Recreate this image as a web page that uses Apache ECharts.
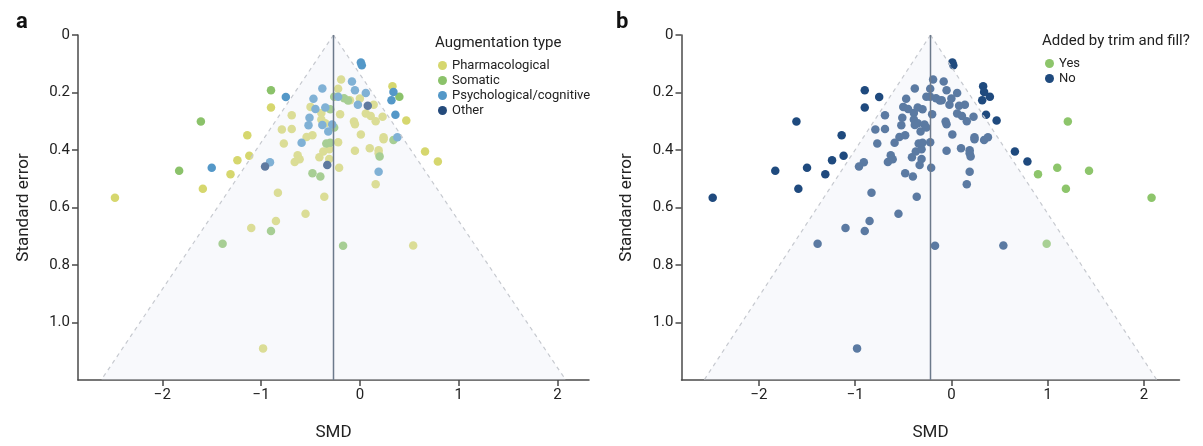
<!DOCTYPE html>
<html>
<head>
<meta charset="utf-8">
<script src="https://cdn.jsdelivr.net/npm/echarts@6/dist/echarts.min.js"></script>
<style>
  html, body { margin: 0; padding: 0; background: #fff; }
  #chart { width: 1203px; height: 446px; }
</style>
</head>
<body>
<div id="chart"></div>
<script>
// observed studies as [SMD, standard error], split by augmentation type
const pharmacological = [
  [-2.48, 0.566], [-1.59, 0.535], [-1.31, 0.484], [-1.24, 0.436], [-1.14, 0.349], [-1.12, 0.420],
  [-1.10, 0.671], [-0.98, 1.090], [-0.90, 0.252], [-0.85, 0.647], [-0.83, 0.549], [-0.79, 0.329],
  [-0.77, 0.377], [-0.69, 0.279], [-0.69, 0.327], [-0.66, 0.442], [-0.63, 0.418], [-0.61, 0.432],
  [-0.55, 0.622], [-0.54, 0.355], [-0.50, 0.250], [-0.48, 0.349], [-0.39, 0.271], [-0.39, 0.294],
  [-0.35, 0.307], [-0.41, 0.425], [-0.37, 0.405], [-0.36, 0.563], [-0.31, 0.397], [-0.31, 0.431],
  [-0.20, 0.276], [-0.22, 0.373], [-0.21, 0.462], [-0.19, 0.155], [-0.22, 0.187], [-0.10, 0.227],
  [-0.06, 0.301], [-0.05, 0.310], [-0.05, 0.403], [0.00, 0.221], [0.01, 0.346], [0.06, 0.273],
  [0.11, 0.282], [0.10, 0.394], [0.14, 0.243], [0.16, 0.300], [0.16, 0.519], [0.19, 0.401],
  [0.19, 0.411], [0.23, 0.284], [0.24, 0.356], [0.24, 0.363], [0.33, 0.178], [0.47, 0.297],
  [0.66, 0.405], [0.79, 0.440], [0.54, 0.732]
];
const somatic = [
  [-1.83, 0.472], [-1.61, 0.301], [-1.39, 0.726], [-0.90, 0.192], [-0.90, 0.682], [-0.48, 0.481],
  [-0.40, 0.492], [-0.30, 0.258], [-0.34, 0.377], [-0.30, 0.375], [-0.26, 0.322], [-0.26, 0.215],
  [-0.16, 0.220], [-0.12, 0.228], [0.20, 0.423], [0.40, 0.215], [0.34, 0.365], [-0.17, 0.733]
];
const psychological = [
  [-1.50, 0.462], [-0.75, 0.216], [-0.91, 0.443], [-0.59, 0.375], [-0.52, 0.314], [-0.51, 0.288],
  [-0.47, 0.222], [-0.45, 0.257], [-0.38, 0.186], [-0.38, 0.313], [-0.35, 0.252], [-0.32, 0.336],
  [-0.28, 0.311], [-0.22, 0.215], [-0.08, 0.162], [-0.05, 0.192], [-0.02, 0.243], [0.01, 0.096],
  [0.02, 0.105], [0.06, 0.202], [0.19, 0.476], [0.34, 0.198], [0.32, 0.227], [0.36, 0.277],
  [0.38, 0.356]
];
const other = [[-0.96, 0.457], [-0.33, 0.452], [0.08, 0.246]];

// studies imputed by trim and fill (panel b)
const filled = [
  [1.21, 0.301], [0.90, 0.484], [1.10, 0.462], [1.43, 0.472], [1.19, 0.535], [2.08, 0.566], [0.99, 0.726]
];
const observed = pharmacological.concat(somatic, psychological, other);

const funnelCenter = [-0.267, -0.217];   // pooled SMD, panel a / panel b
const seMax = 1.2;
const seTicks = [0, 0.2, 0.4, 0.6, 0.8, 1.0];
const smdTicks = [-2, -1, 0, 1, 2];

const fontFamily = 'Roboto, "Noto Sans", sans-serif';

function smdRange(c) {
  const lo = c - 1.96 * seMax, hi = c + 1.96 * seMax;
  const pad = (hi - lo) * 0.05;
  return [lo - pad, hi + pad];
}

function renderFunnel(params, api) {
  const c = api.value(0);
  const top = api.coord([c, 0]);
  const left = api.coord([c - 1.96 * seMax, seMax]);
  const right = api.coord([c + 1.96 * seMax, seMax]);
  const bottom = api.coord([c, seMax]);
  const dash = {stroke: '#c6c9cf', lineWidth: 1.2, lineDash: [4, 4]};
  return {
    type: 'group',
    children: [
      {type: 'polygon', shape: {points: [top, left, right]}, style: {fill: 'rgba(232,236,246,0.3)'}},
      {type: 'line', shape: {x1: top[0], y1: top[1], x2: left[0], y2: left[1]}, style: dash},
      {type: 'line', shape: {x1: top[0], y1: top[1], x2: right[0], y2: right[1]}, style: dash},
      {type: 'line', shape: {x1: top[0], y1: top[1], x2: bottom[0], y2: bottom[1]},
        style: {stroke: '#6c7a8b', lineWidth: 1.5}}
    ]
  };
}

const axisLine = {onZero: false, lineStyle: {color: '#4a4a4a', width: 1.5}};
const axisTick = {length: 6, lineStyle: {color: '#4a4a4a', width: 1.5}};
const labelStyle = {color: '#222', fontSize: 15, fontFamily: fontFamily};
const nameStyle = {color: '#222', fontSize: 17, fontFamily: fontFamily};

function xAxisFor(i) {
  const r = smdRange(funnelCenter[i]);
  return {
    type: 'value', gridIndex: i, position: 'bottom', min: r[0], max: r[1],
    name: 'SMD', nameLocation: 'middle', nameGap: 44, nameTextStyle: nameStyle,
    axisLine: axisLine,
    axisTick: Object.assign({customValues: smdTicks}, axisTick),
    axisLabel: Object.assign({customValues: smdTicks, margin: 8,
      formatter: v => (v < 0 ? '\u2212' + Math.abs(v) : String(v))}, labelStyle),
    splitLine: {show: false}
  };
}

function yAxisFor(i) {
  return {
    type: 'value', gridIndex: i, position: 'left', min: 0, max: seMax, inverse: true,
    name: 'Standard error', nameLocation: 'middle', nameGap: 46, nameTextStyle: nameStyle,
    axisLine: axisLine,
    axisTick: Object.assign({customValues: seTicks}, axisTick),
    axisLabel: Object.assign({customValues: seTicks, margin: 8,
      formatter: v => (v === 0 ? '0' : v.toFixed(1))}, labelStyle),
    splitLine: {show: false}
  };
}

function dots(name, data, color, i) {
  return {
    name: name, type: 'scatter', xAxisIndex: i, yAxisIndex: i, data: data,
    symbolSize: 8.5, z: 2, itemStyle: {color: color, opacity: 1}, silent: true
  };
}

const legendText = {color: '#222', fontSize: 13, fontFamily: fontFamily, lineHeight: 15};

const chart = echarts.init(document.getElementById('chart'), null, {renderer: 'canvas'});
chart.setOption({
  animation: false,
  backgroundColor: '#fff',
  title: [
    {text: 'a', left: 11, top: 6, textStyle: {fontSize: 22, fontWeight: 'bold', color: '#111', fontFamily: fontFamily}},
    {text: 'b', left: 611, top: 6, textStyle: {fontSize: 22, fontWeight: 'bold', color: '#111', fontFamily: fontFamily}},
    {text: 'Augmentation type', left: 435, top: 36, padding: 0,
      textStyle: {fontSize: 15, fontWeight: 'normal', color: '#222', fontFamily: fontFamily}},
    {text: 'Added by trim and fill?', left: 1042, top: 34, padding: 0,
      textStyle: {fontSize: 15, fontWeight: 'normal', color: '#222', fontFamily: fontFamily}}
  ],
  legend: [
    {data: ['Pharmacological', 'Somatic', 'Psychological/cognitive', 'Other'],
      orient: 'vertical', left: 438, top: 58, padding: 0, itemGap: 0,
      icon: 'circle', itemWidth: 9, itemHeight: 9, textStyle: legendText, selectedMode: false},
    {data: ['Yes', 'No'],
      orient: 'vertical', left: 1045, top: 56, padding: 0, itemGap: 0,
      icon: 'circle', itemWidth: 9, itemHeight: 9, textStyle: legendText, selectedMode: false}
  ],
  grid: [
    {left: 78, top: 35, width: 511, height: 346},
    {left: 681.5, top: 35, width: 498, height: 346}
  ],
  xAxis: [xAxisFor(0), xAxisFor(1)],
  yAxis: [yAxisFor(0), yAxisFor(1)],
  series: [
    dots('Pharmacological', pharmacological, '#d6d76e', 0),
    dots('Somatic', somatic, '#8bc26a', 0),
    dots('Psychological/cognitive', psychological, '#5498c8', 0),
    dots('Other', other, '#244a7b', 0),
    dots('No', observed, '#1f4a7e', 1),
    dots('Yes', filled, '#8dc56b', 1),
    {type: 'custom', xAxisIndex: 0, yAxisIndex: 0, data: [[funnelCenter[0], 0]],
      renderItem: renderFunnel, z: 5, silent: true},
    {type: 'custom', xAxisIndex: 1, yAxisIndex: 1, data: [[funnelCenter[1], 0]],
      renderItem: renderFunnel, z: 5, silent: true}
  ]
});
</script>
</body>
</html>
